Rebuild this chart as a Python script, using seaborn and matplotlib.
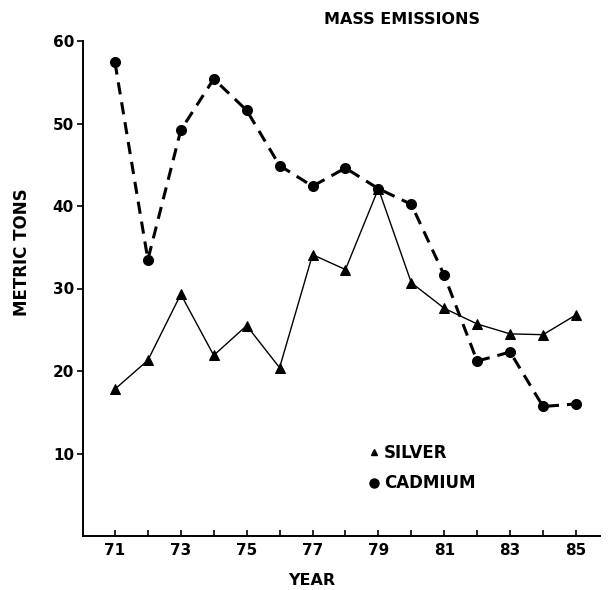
import matplotlib
matplotlib.use("Agg")
import matplotlib.pyplot as plt
import seaborn as sns
import pandas as pd
from matplotlib.lines import Line2D

years = [71, 72, 73, 74, 75, 76, 77, 78, 79, 80, 81, 82, 83, 84, 85]
silver = [17.8, 21.3, 29.3, 21.9, 25.5, 20.4, 34.1, 32.3, 42.1, 30.7, 27.6, 25.7, 24.5, 24.4, 26.8]
cadmium = [57.4, 33.5, 49.2, 55.4, 51.6, 44.9, 42.4, 44.6, 42.1, 40.2, 31.6, 21.2, 22.3, 15.7, 16.0]
y_ticks = [10, 20, 30, 40, 50, 60]
x_tick_labels = ["71", "", "73", "", "75", "", "77", "", "79", "", "81", "", "83", "", "85"]

sns.set_theme(style="white")
plt.rcParams['font.family'] = ['DejaVu Sans']
plt.rcParams['text.color'] = 'black'
plt.rcParams['axes.labelcolor'] = 'black'

df_s = pd.DataFrame({"year": years, "value": silver})
df_c = pd.DataFrame({"year": years, "value": cadmium})

W, H = 608, 590
L, R, B, T = 83, 600, 536, 41
fig = plt.figure(figsize=(W / 100, H / 100), dpi=100)
ax = fig.add_axes([L / W, (H - B) / H, (R - L) / W, (B - T) / H])

sns.lineplot(data=df_s, x="year", y="value", ax=ax, color="black", linewidth=1.0,
             marker="^", markersize=6.5, markeredgecolor="black", markerfacecolor="black")
sns.lineplot(data=df_c, x="year", y="value", ax=ax, color="black", linewidth=2.2,
             marker="o", markersize=7.2, markeredgecolor="black", markerfacecolor="black",
             linestyle=(0, (4.0, 2.6)))

ax.set_xlim(70.03, 85.73)
ax.set_ylim(0, 60)
ax.set_yticks(y_ticks)
ax.set_yticklabels([str(v) for v in y_ticks], fontweight="bold", fontsize=11)
ax.set_xticks(years)
ax.set_xticklabels(x_tick_labels, fontweight="bold", fontsize=11)

ax.tick_params(axis="y", direction="out", length=4, width=1.2, pad=2.5, left=True, colors="black")
ax.tick_params(axis="x", direction="in", length=4.5, width=1.2, pad=5, bottom=True, colors="black")

for s in ["top", "right"]:
    ax.spines[s].set_visible(False)
for s in ["left", "bottom"]:
    ax.spines[s].set_color("black")
    ax.spines[s].set_linewidth(1.4)

pw, ph = R - L, B - T
ax.set_xlabel("YEAR", fontweight="bold", fontsize=11.5, color="black")
ax.set_ylabel("METRIC TONS", fontweight="bold", fontsize=12, color="black")
ax.xaxis.set_label_coords((312 - L) / pw, (B - 573) / ph)
ax.yaxis.set_label_coords((31 - L) / pw, (B - 252) / ph)

ax.set_title("MASS EMISSIONS", fontweight="bold", fontsize=11.5, x=(402 - L) / pw,
             y=(B - 19) / ph, va="center", pad=0, color="black")

handles = [Line2D([], [], color="black", marker="^", linestyle="none", markersize=5),
           Line2D([], [], color="black", marker="o", linestyle="none", markersize=6.5)]
leg = ax.legend(handles, ["SILVER", "CADMIUM"], frameon=False, loc="upper left",
                bbox_to_anchor=((369 - L) / pw, (B - 444) / ph), borderaxespad=0, borderpad=0,
                handlelength=0.6, handletextpad=0.3, labelspacing=0.74,
                prop={"weight": "bold", "size": 12})
for t in leg.get_texts():
    t.set_color("black")

ax.grid(False)
fig.savefig("out.png", dpi=100)
